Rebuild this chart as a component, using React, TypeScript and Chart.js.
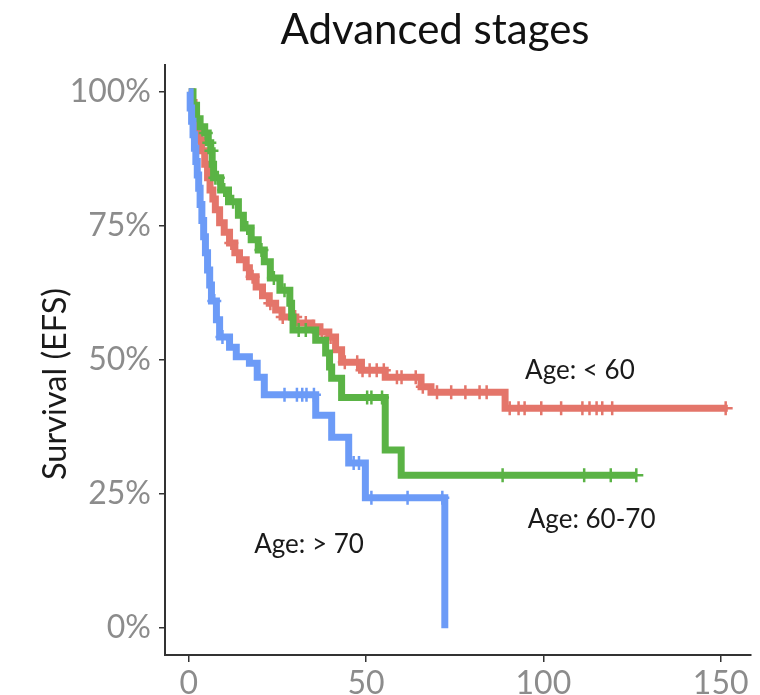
import React, { useEffect, useRef } from "react";
import { Chart, registerables } from "chart.js";

Chart.register(...registerables);

// ---- Data (Kaplan-Meier step curves, months vs. survival fraction) ----
const redTimes = [0.8, 1.5, 2.2, 3.0, 3.6, 4.5, 5.3, 6.0, 6.8, 7.5, 8.7, 10, 11.5, 13, 14.3, 16.2, 17.1, 19, 20.8, 22.7, 24.5, 26.3, 30.2, 34.7, 37, 39.5, 41.4, 43.1, 48.7, 55.4, 65.5, 68.3, 89.2];
const redSurv = [0.98, 0.96, 0.935, 0.91, 0.89, 0.865, 0.84, 0.817, 0.8, 0.78, 0.756, 0.738, 0.718, 0.7, 0.687, 0.672, 0.655, 0.636, 0.62, 0.606, 0.593, 0.58, 0.569, 0.562, 0.552, 0.543, 0.519, 0.496, 0.481, 0.468, 0.45, 0.44, 0.41];
const redEnd = 152;
const redCensor = [12, 18, 23, 26.5, 30, 33, 35, 37.5, 40, 44, 47.5, 49, 51, 53, 55, 58.7, 60, 64, 66, 70, 74, 78, 82, 84, 90.5, 93, 94.7, 99.4, 105, 111, 113, 115, 116.6, 119.4, 151.4];

const greenTimes = [1.2, 2.2, 3.2, 4.5, 5.5, 6.2, 6.6, 7.0, 9, 11.2, 14, 15.4, 17.6, 19.6, 21.3, 23, 25.7, 28.5, 29, 29.4, 35.8, 38.6, 39.7, 40.3, 43.1, 55.4, 59.9];
const greenSurv = [0.975, 0.95, 0.935, 0.923, 0.905, 0.89, 0.865, 0.84, 0.817, 0.795, 0.77, 0.746, 0.724, 0.705, 0.683, 0.653, 0.63, 0.606, 0.58, 0.556, 0.537, 0.513, 0.487, 0.466, 0.43, 0.332, 0.285];
const greenEnd = 126.2;
const greenCensor = [4.8, 5.8, 6.4, 7.5, 8.2, 10, 12.5, 16.5, 20.5, 24, 27, 31, 33, 50.3, 51.5, 54.5, 88.5, 111.5, 119, 126.2];

const blueTimes = [0.4, 0.8, 1.2, 1.6, 2.0, 2.4, 2.8, 3.2, 3.7, 4.2, 4.7, 5.3, 5.9, 6.4, 7.8, 8.7, 11.5, 13.4, 17.1, 19.3, 21.3, 35.8, 40.3, 45.1, 49.8, 72.2];
const blueSurv = [0.97, 0.945, 0.92, 0.895, 0.87, 0.845, 0.82, 0.79, 0.76, 0.73, 0.7, 0.668, 0.64, 0.61, 0.575, 0.543, 0.524, 0.506, 0.494, 0.468, 0.435, 0.397, 0.356, 0.308, 0.243, 0];
const blueEnd = 72.2;
const blueCensor = [7.2, 9.5, 27, 30.5, 32, 33.2, 35.3, 46.5, 48, 51.5, 61.7, 71.5];

const groupLabels = ["Age: < 60", "Age: 60-70", "Age: > 70"];
const labelX = [110.3, 113.6, 33.9];
const labelY = [0.48, 0.2015, 0.155];

const titleText = "Advanced stages";
const yTitleText = "Survival (EFS)";

const xTicks = [0, 50, 100, 150];
const yTicks = [0, 0.25, 0.5, 0.75, 1];

const COLORS = ["#E4756A", "#5AB345", "#6C9BF7"];
const FONT = "Lato, 'Open Sans', sans-serif";

function stepData(times: number[], surv: number[], end: number) {
  const pts = [{ x: 0, y: 1 }];
  for (let i = 0; i < times.length; i++) pts.push({ x: times[i], y: surv[i] });
  const last = pts[pts.length - 1];
  if (end > last.x) pts.push({ x: end, y: last.y });
  return pts;
}

function survAt(times: number[], surv: number[], t: number) {
  let v = 1;
  for (let i = 0; i < times.length; i++) {
    if (times[i] <= t) v = surv[i];
  }
  return v;
}

function censorData(times: number[], surv: number[], cens: number[]) {
  return cens.map((t) => ({ x: t, y: survAt(times, surv, t) }));
}

const textPlugin = {
  id: "texts",
  afterDatasetsDraw(chart: any) {
    const { ctx, scales } = chart;
    ctx.save();
    // group labels
    ctx.font = `26px ${FONT}`;
    ctx.fillStyle = "#1a1a1a";
    ctx.textAlign = "center";
    ctx.textBaseline = "middle";
    groupLabels.forEach((txt, i) => {
      ctx.fillText(txt, scales.x.getPixelForValue(labelX[i]), scales.y.getPixelForValue(labelY[i]));
    });
    // chart title
    ctx.font = `42px ${FONT}`;
    ctx.fillStyle = "#111";
    ctx.textBaseline = "alphabetic";
    ctx.fillText(titleText, 435, 44);
    // y-axis title
    ctx.translate(56, 384);
    ctx.rotate(-Math.PI / 2);
    ctx.font = `32.5px ${FONT}`;
    ctx.fillStyle = "#1a1a1a";
    ctx.textBaseline = "middle";
    ctx.fillText(yTitleText, 0, 0);
    ctx.restore();
  },
};

export default function App() {
  const ref = useRef<HTMLCanvasElement | null>(null);
  useEffect(() => {
    if (!ref.current) return;
    const lineDs = (data: any[], color: string, order: number) => ({
      type: "line",
      data,
      borderColor: color,
      backgroundColor: color,
      borderWidth: 7,
      stepped: true,
      pointRadius: 0,
      fill: false,
      order,
    });
    const crossDs = (data: any[], color: string, order: number) => ({
      type: "line",
      data,
      showLine: false,
      pointStyle: "cross",
      pointRadius: 7,
      borderColor: color,
      backgroundColor: color,
      pointBorderColor: color,
      pointBorderWidth: 2.5,
      order,
    });
    const chart = new Chart(ref.current, {
      type: "line",
      data: {
        datasets: [
          lineDs(stepData(redTimes, redSurv, redEnd), COLORS[0], 6),
          crossDs(censorData(redTimes, redSurv, redCensor), COLORS[0], 5),
          lineDs(stepData(greenTimes, greenSurv, greenEnd), COLORS[1], 4),
          crossDs(censorData(greenTimes, greenSurv, greenCensor), COLORS[1], 3),
          lineDs(stepData(blueTimes, blueSurv, blueEnd), COLORS[2], 2),
          crossDs(censorData(blueTimes, blueSurv, blueCensor), COLORS[2], 1),
        ] as any,
      },
      options: {
        responsive: false,
        animation: false,
        layout: { padding: { left: 0, right: 5, top: 65, bottom: 0 } },
        plugins: {
          legend: { display: false },
          tooltip: { enabled: false },
          title: { display: false },
        },
        scales: {
          x: {
            type: "linear",
            min: -6.7,
            max: 158.4,
            afterBuildTicks: (s: any) => {
              s.ticks = xTicks.map((v) => ({ value: v }));
            },
            afterFit: (s: any) => {
              s.height = 40;
            },
            grid: { drawOnChartArea: false, drawTicks: true, tickLength: 7, color: "#333", lineWidth: 1.5 },
            border: { display: true, color: "#333", width: 2 },
            ticks: {
              color: "#8c8c8c",
              font: { family: FONT, size: 32 },
              padding: 2,
              maxRotation: 0,
              autoSkip: false,
            },
          },
          y: {
            type: "linear",
            min: -0.05,
            max: 1.05,
            afterBuildTicks: (s: any) => {
              s.ticks = yTicks.map((v) => ({ value: v }));
            },
            afterFit: (s: any) => {
              s.width = 165;
            },
            grid: { drawOnChartArea: false, drawTicks: true, tickLength: 6, color: "#333", lineWidth: 1.5 },
            border: { display: true, color: "#333", width: 2 },
            title: { display: false },
            ticks: {
              color: "#8c8c8c",
              font: { family: FONT, size: 32 },
              padding: 8,
              autoSkip: false,
              callback: (v: any) => `${Math.round(Number(v) * 100)}%`,
            },
          },
        },
      },
      plugins: [textPlugin],
    });
    return () => chart.destroy();
  }, []);
  return (
    <div style={{ position: "absolute", left: 0, top: 0, width: 760, height: 695, background: "#fff" }}>
      <canvas ref={ref} width={760} height={695} style={{ display: "block" }} />
    </div>
  );
}
